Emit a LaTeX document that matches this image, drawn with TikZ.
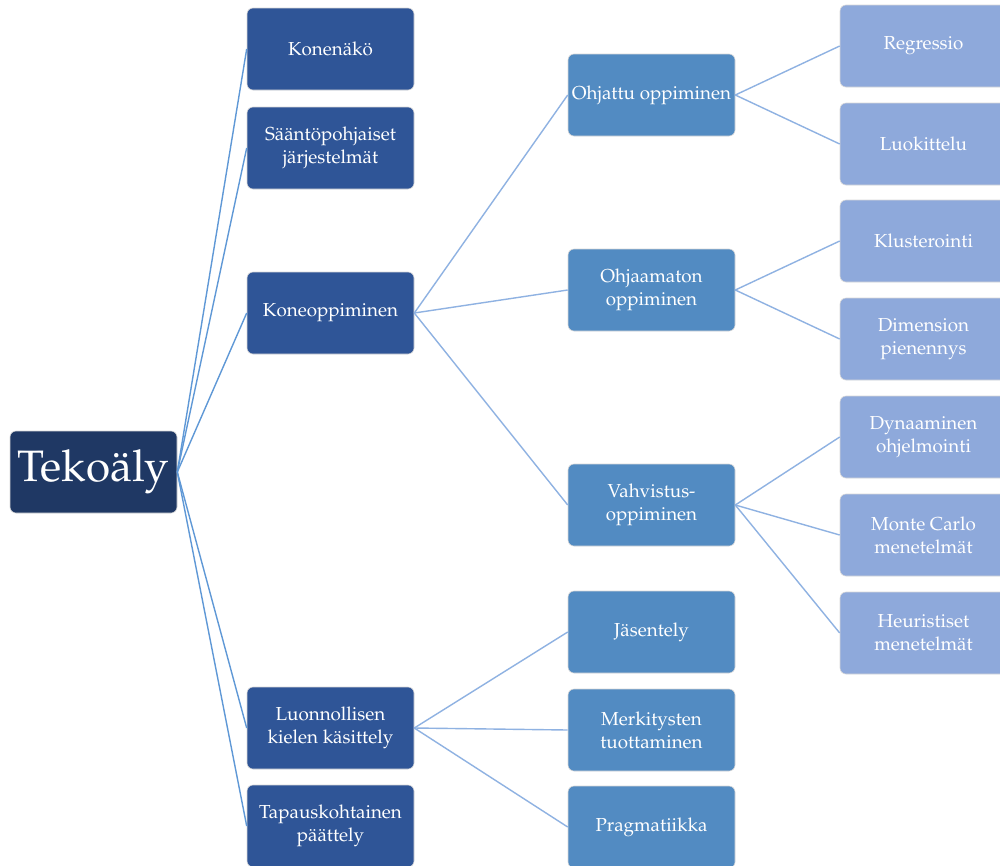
\documentclass[tikz,border=0pt]{standalone}
\usepackage[T1]{fontenc}
\usepackage{mathpazo}
\definecolor{rootc}{RGB}{31,56,100}
\definecolor{levA}{RGB}{47,85,151}
\definecolor{levB}{RGB}{82,139,194}
\definecolor{levC}{RGB}{142,169,219}
\definecolor{linkA}{RGB}{95,152,214}
\definecolor{linkB}{RGB}{143,178,226}
\tikzset{
  box/.style={rectangle, rounded corners=6pt, minimum width=167pt, minimum height=82pt,
    inner sep=0pt, align=center, text=white, draw=white!85!black, line width=0.6pt,
    font=\fontsize{18.8}{23}\selectfont},
  rootbox/.style={box, fill=rootc, font=\fontsize{44}{50}\selectfont},
  boxA/.style={box, fill=levA},
  boxB/.style={box, fill=levB},
  boxC/.style={box, fill=levC},
  linkroot/.style={draw=linkA, line width=1.4pt},
  link/.style={draw=linkB, line width=1.4pt},
}
\begin{document}
\begin{tikzpicture}[x=1pt, y=-1pt]
\clip (0,0) rectangle (1000,865);
\fill[white] (0,0) rectangle (1000,865);

% root
\node[rootbox] (root) at (93.5,472) {Tekoäly};

% first level
\node[boxA] (kone)  at (330.5,49)  {Konenäkö};
\node[boxA] (saanto) at (330.5,148) {Sääntöpohjaiset\\järjestelmät};
\node[boxA] (ml)    at (330.5,313) {Koneoppiminen};
\node[boxA] (nlp)   at (330.5,728) {Luonnollisen\\kielen käsittely};
\node[boxA] (cbr)   at (330.5,826) {Tapauskohtainen\\päättely};

% second level
\node[boxB] (sup)   at (651.5,95)  {Ohjattu oppiminen};
\node[boxB] (unsup) at (651.5,290) {Ohjaamaton\\oppiminen};
\node[boxB] (rl)    at (651.5,505) {Vahvistus-\\oppiminen};
\node[boxB] (pars)  at (651.5,632) {Jäsentely};
\node[boxB] (gen)   at (651.5,730) {Merkitysten\\tuottaminen};
\node[boxB] (prag)  at (651.5,827) {Pragmatiikka};

% third level
\node[boxC] (reg)   at (923.5,46)  {Regressio};
\node[boxC] (cls)   at (923.5,144) {Luokittelu};
\node[boxC] (clu)   at (923.5,241) {Klusterointi};
\node[boxC] (dim)   at (923.5,339) {Dimension\\pienennys};
\node[boxC] (dyn)   at (923.5,437) {Dynaaminen\\ohjelmointi};
\node[boxC] (mc)    at (923.5,535) {Monte Carlo\\menetelmät};
\node[boxC] (heur)  at (923.5,633) {Heuristiset\\menetelmät};

% connectors
\foreach \t in {kone,saanto,ml,nlp,cbr}
  \draw[linkroot] (root.east) -- (\t.west);
\foreach \t in {sup,unsup,rl}
  \draw[link] (ml.east) -- (\t.west);
\foreach \t in {pars,gen,prag}
  \draw[link] (nlp.east) -- (\t.west);
\foreach \t in {reg,cls}
  \draw[link] (sup.east) -- (\t.west);
\foreach \t in {clu,dim}
  \draw[link] (unsup.east) -- (\t.west);
\foreach \t in {dyn,mc,heur}
  \draw[link] (rl.east) -- (\t.west);
\end{tikzpicture}
\end{document}
